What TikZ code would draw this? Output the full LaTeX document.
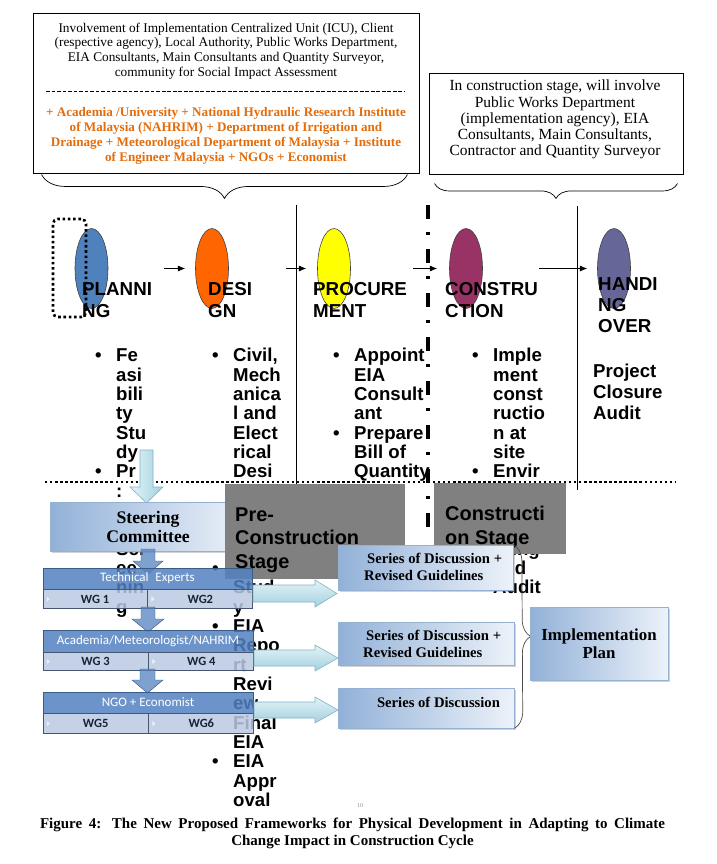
\documentclass[tikz,border=0pt]{standalone}
\usepackage{fontspec}
\setmainfont{Liberation Serif}
\setsansfont{Liberation Sans}
\newfontfamily\calibrifont{Carlito}
\usetikzlibrary{shapes.geometric, arrows.meta, positioning, calc, decorations.pathreplacing, shadows}

\newlength\pxu
\setlength\pxu{0.03cm}

\definecolor{orangetxt}{RGB}{228,108,10}
\definecolor{planblue}{RGB}{79,129,189}
\definecolor{designorange}{RGB}{255,102,0}
\definecolor{procyellow}{RGB}{255,255,0}
\definecolor{consplum}{RGB}{153,51,102}
\definecolor{handslate}{RGB}{102,102,153}
\definecolor{stagegray}{RGB}{128,128,128}
\definecolor{barfill}{RGB}{84,130,193}
\definecolor{wgfill}{RGB}{186,201,226}
\definecolor{wgedge}{RGB}{70,86,112}
\definecolor{wgtext}{RGB}{25,35,55}
\definecolor{cyanlight}{RGB}{226,243,248}
\definecolor{cyandark}{RGB}{164,209,222}
\definecolor{cyanedge}{RGB}{128,178,196}
\definecolor{serleft}{RGB}{146,177,216}
\definecolor{serright}{RGB}{236,242,249}
\definecolor{seredge}{RGB}{150,176,212}

\newcommand{\bulletcol}[1]{\begin{tabular}{@{}p{21\pxu}@{}l@{}}#1\end{tabular}}

\begin{document}
\begin{tikzpicture}[x=0.03cm, y=-0.03cm,
    infobox/.style={draw, line width=0.8pt, inner sep=0},
    stage/.style={ellipse, draw=black!75, line width=0.5pt, minimum width=33\pxu,
                  minimum height=80\pxu, inner sep=0},
    stagelabel/.style={anchor=north west, inner sep=0, align=left,
                       font=\sffamily\bfseries\fontsize{16}{18.8}\selectfont},
    coltext/.style={anchor=north west, inner sep=0,
                    font=\sffamily\bfseries\fontsize{15.9}{16.5}\selectfont},
    flow/.style={-{Latex[length=2.2mm, width=1.8mm]}, line width=0.6pt},
    brace/.style={decorate, decoration={brace, amplitude=#1}, line width=0.6pt},
    dotframe/.style={draw, line width=2.3pt, dash pattern=on 2.2pt off 2.3pt,
                     rounded corners=0.15cm, inner sep=0},
    phaseline/.style={line width=2.6pt, dash pattern=on 12pt off 11pt on 2.6pt off 12pt},
    dotrule/.style={line width=2.2pt, dash pattern=on 2.1pt off 2.2pt},
    graybox/.style={fill=stagegray, inner sep=0},
    graytext/.style={anchor=north west, inner sep=0, align=left,
                     font=\sffamily\bfseries\fontsize{17}{20}\selectfont},
    steerbox/.style={draw=seredge, line width=0.5pt, left color=serleft, right color=serright,
                     drop shadow={shadow xshift=2\pxu, shadow yshift=-2\pxu, opacity=0.35},
                     inner sep=0, align=center},
    blubar/.style={fill=barfill, fill opacity=0.85, text opacity=1, draw=barfill!70!black,
                   line width=0.4pt, text=white, inner sep=0,
                   font=\calibrifont\fontsize{11.1}{12}\selectfont},
    wgcell/.style={fill=wgfill, fill opacity=0.85, text opacity=1, draw=wgedge, line width=0.6pt,
                   text=wgtext, inner sep=0, minimum height=19\pxu,
                   font=\calibrifont\bfseries\fontsize{10.7}{12}\selectfont},
    blueflow/.style={fill=barfill, fill opacity=0.75, draw=barfill!70!black, line width=0.4pt},
    cyanflow/.style={draw=cyanedge, line width=0.5pt, top color=cyanlight, bottom color=cyandark},
    sertext/.style={inner sep=0, align=left, font=\bfseries\fontsize{12.5}{14.5}\selectfont}
]
    \useasboundingbox[fill=white] (0,0) rectangle (716,864);

    % Stakeholder boxes
    \node[infobox, minimum width=386\pxu, minimum height=160\pxu] (icu) at (226,93) {};
    \node[align=center, inner sep=0, font=\fontsize{11.35}{12.5}\selectfont] (icutext) at (226,51)
        {Involvement of Implementation Centralized Unit (ICU), Client\\
         (respective agency), Local Authority, Public Works Department,\\
         EIA Consultants, Main Consultants and Quantity Surveyor,\\
         community for Social Impact Assessment};
    \draw[dash pattern=on 3.3pt off 1.4pt, line width=0.6pt] (46,91) -- (405,91);
    \node[align=center, inner sep=0, text=orangetxt, font=\bfseries\fontsize{11.2}{13}\selectfont] (partners) at (226,136)
        {+ Academia /University + National Hydraulic Research Institute\\
         of Malaysia (NAHRIM) + Department of Irrigation and\\
         Drainage + Meteorological Department of Malaysia + Institute\\
         of Engineer Malaysia + NGOs + Economist};
    \draw[brace=0.72cm] ($(icu.south east)+(-12,1)$) -- ($(icu.south west)+(9,1)$);

    \node[infobox, minimum width=254\pxu, minimum height=101\pxu] (crew) at (556,123.5) {};
    \node[align=center, inner sep=0, font=\fontsize{13.2}{13.8}\selectfont] (crewtext) at (555,119.5)
        {In construction stage, will involve\\Public Works Department\\(implementation agency), EIA\\
         Consultants, Main Consultants,\\Contractor and Quantity Surveyor};
    \draw[brace=0.45cm] ($(crew.south east)+(-6,9)$) -- ($(crew.south west)+(6,9)$);

    % Construction cycle
    \node[stage, fill=planblue] (plan) at (91.5,268.5) {};
    \node[stage, fill=designorange] (desg) at (212,268.5) {};
    \node[stage, fill=procyellow] (proc) at (334,268.5) {};
    \node[stage, fill=consplum] (cons) at (466,268.5) {};
    \node[stage, fill=handslate] (hand) at (614,268.5) {};
    \node[dotframe, minimum width=33\pxu, minimum height=98\pxu] (focus) at (69.5,268) {};

    \draw[flow, shorten <=56\pxu, shorten >=10\pxu] (plan) -- (desg);
    \draw[flow, shorten <=57\pxu, shorten >=11\pxu] (desg) -- (proc);
    \draw[flow, shorten <=62\pxu, shorten >=12\pxu] (proc) -- (cons);
    \draw[flow, shorten <=56\pxu, shorten >=10\pxu] (cons) -- (hand);

    \node[stagelabel] (planlbl) at (82,282) {PLANNI\\NG};
    \node[stagelabel] (desglbl) at (208,282) {DESI\\GN};
    \node[stagelabel] (proclbl) at (313,282) {PROCURE\\MENT};
    \node[stagelabel] (conslbl) at (445,282) {CONSTRU\\CTION};
    \node[stagelabel, font=\sffamily\bfseries\fontsize{16}{17.9}\selectfont] (handlbl) at (598,277) {HANDI\\NG\\OVER};

    % Activities per stage
    \node[coltext] (plantext) at (95,348) {\bulletcol{\textbullet & Fe\\ & asi\\ & bili\\ & ty\\ & Stu\\ & dy\\
        \textbullet & Pr\\ & :\\ & \\ & \\ & Scr\\ & ee\\ & nin\\ & g}};
    \node[coltext] (desgtext) at (212,348) {\bulletcol{\textbullet & Civil,\\ & Mech\\ & anica\\ & l and\\ & Elect\\
        & rical\\ & Desi\\ & gn\\ & \\ & \\ & \\ \textbullet & \\ & Stud\\ & y\\
        \textbullet & EIA\\ & Repo\\ & rt\\ & Revi\\ & ew\\ & Final\\ & EIA\\
        \textbullet & EIA\\ & Appr\\ & oval}};
    \node[coltext] (proctext) at (333,348) {\bulletcol{\textbullet & Appoint\\ & EIA\\ & Consult\\ & ant\\
        \textbullet & Prepare\\ & Bill of\\ & Quantity}};
    \node[coltext] (constext) at (472,348) {\bulletcol{\textbullet & Imple\\ & ment\\ & const\\ & ructio\\ & n at\\ & site\\
        \textbullet & Envir\\ & onme\\ & ntal\\ & Monit\\ & oring\\ & and\\ & Audit}};
    \node[coltext, align=left, font=\sffamily\bfseries\fontsize{15.9}{17.9}\selectfont] (handtext) at (593,363.5)
        {Project\\Closure\\Audit};

    % Phase separators
    \draw[line width=0.8pt] (296,205) -- (296,484);
    \draw[line width=0.8pt] (577,206) -- (577,490);
    \draw[phaseline] (428,205) -- (428,540);
    \draw[dotrule] (45,482) -- (676,482);

    % Committee structure
    \draw[cyanflow, left color=cyanlight, right color=cyandark]
        (140,450) -- (153,450) -- (153,487) -- (163,487) -- (146.5,503) -- (130,487) -- (140,487) -- cycle;
    \node[steerbox, minimum width=196\pxu, minimum height=49\pxu,
          font=\bfseries\fontsize{15.1}{16.2}\selectfont] (steer) at (148,526.5) {Steering\\Committee};

    \node[graybox, minimum width=180\pxu, minimum height=95\pxu] (precon) at (315,531.5) {};
    \node[graytext] (precontext) at (235,507.5) {Pre-\\Construction\\Stage};
    \node[graybox, minimum width=132\pxu, minimum height=71\pxu] (constage) at (500,518.5) {};
    \node[graytext] (constagetext) at (445,506) {Constructi\\on Stage};

    \draw[blueflow] (141,549) -- (155,549) -- (155,561) -- (163,561) -- (148,574) -- (133,561) -- (141,561) -- cycle;
    \node[blubar, minimum width=209\pxu, minimum height=21\pxu] (techbar) at (147.5,578.5) {Technical\hspace{0.3em} Experts};
    \node[wgcell, minimum width=104\pxu, anchor=north west] (wg1) at (techbar.south west) {WG 1};
    \node[wgcell, minimum width=105\pxu, anchor=west] (wg2) at (wg1.east) {WG2};

    \draw[blueflow] (141,607) -- (155,607) -- (155,619) -- (164,619) -- (148,632) -- (132,619) -- (141,619) -- cycle;
    \node[blubar, minimum width=210\pxu, minimum height=22\pxu] (acadbar) at (148,641) {Academia/Meteorologist/NAHRIM};
    \node[wgcell, minimum width=105\pxu, minimum height=18\pxu, anchor=north west] (wg3) at (acadbar.south west) {WG 3};
    \node[wgcell, minimum width=105\pxu, minimum height=18\pxu, anchor=west] (wg4) at (wg3.east) {WG 4};

    \draw[blueflow] (140,669) -- (155,669) -- (155,680) -- (163,680) -- (147.5,693) -- (132,680) -- (140,680) -- cycle;
    \node[blubar, minimum width=210\pxu, minimum height=21\pxu] (ngobar) at (148,702.5) {NGO + Economist};
    \node[wgcell, minimum width=105\pxu, minimum height=20\pxu, anchor=north west] (wg5) at (ngobar.south west) {WG5};
    \node[wgcell, minimum width=105\pxu, minimum height=20\pxu, anchor=west] (wg6) at (wg5.east) {WG6};

    \foreach \cell in {wg1,wg2,wg3,wg4,wg5,wg6} {
        \fill[white, opacity=0.7] ($(\cell.west)+(4,-2.5)$) -- ($(\cell.west)+(4,2.5)$) -- ($(\cell.west)+(7,0)$) -- cycle;
    }

    % Outputs
    \draw[cyanflow] (253,585) -- (315,585) -- (315,580) -- (337,593.5) -- (315,607) -- (315,602) -- (253,602) -- cycle;
    \draw[cyanflow] (254,650) -- (315,650) -- (315,645) -- (338,658) -- (315,671) -- (315,666) -- (254,666) -- cycle;
    \draw[cyanflow] (254,702) -- (315,702) -- (315,697) -- (338,710) -- (315,723) -- (315,718) -- (254,718) -- cycle;

    \node[steerbox, minimum width=175\pxu, minimum height=45\pxu] (ser1) at (425.5,567.5) {};
    \node[sertext, anchor=west] (ser1text) at (364,566.5) {\hspace*{3\pxu}Series of Discussion +\\Revised Guidelines};
    \node[steerbox, minimum width=176\pxu, minimum height=43\pxu] (ser2) at (426,643.5) {};
    \node[sertext, anchor=west] (ser2text) at (363,643.5) {\hspace*{3\pxu}Series of Discussion +\\Revised Guidelines};
    \node[steerbox, minimum width=176\pxu, minimum height=40\pxu] (ser3) at (426,708) {};
    \node[sertext] (ser3text) at (438.5,702) {Series of Discussion};

    \draw[brace=0.51cm, draw=black!70] (ser1.north east) -- (ser3.south east);

    \node[steerbox, minimum width=138\pxu, minimum height=73\pxu,
          font=\bfseries\fontsize{14.4}{15.6}\selectfont] (implan) at (599,643.5) {Implementation\\Plan};

    % Caption
    \node[inner sep=0, text=black!45, font=\fontsize{5}{6}\selectfont] (pageno) at (360,806) {10};
    \node[align=center, inner sep=0, font=\bfseries\fontsize{12.8}{14.5}\selectfont] (caption) at (352.5,833.5)
        {\makebox[625\pxu][s]{Figure 4: The New Proposed Frameworks for Physical Development in Adapting to Climate}\\
         Change Impact in Construction Cycle};
\end{tikzpicture}
\end{document}
